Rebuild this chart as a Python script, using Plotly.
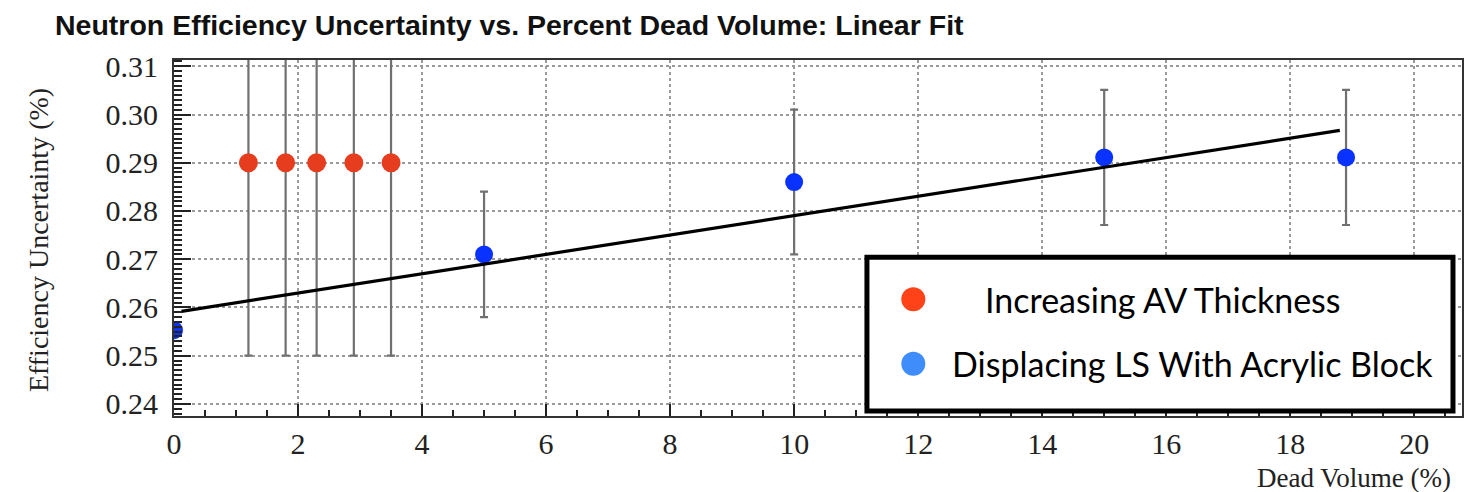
import plotly.graph_objects as go

# ---- data ----
red_x = [1.2, 1.8, 2.3, 2.9, 3.5]
red_y = [0.290, 0.290, 0.290, 0.290, 0.290]
red_err = [0.040, 0.040, 0.040, 0.040, 0.040]

blue_x = [0.0, 5.0, 10.0, 15.0, 18.9]
blue_y = [0.2553, 0.2710, 0.2860, 0.2911, 0.2911]
blue_err = [0.0, 0.0130, 0.0150, 0.0140, 0.0140]

fit_x = [0.12, 18.8]
fit_y = [0.2592, 0.2967]

x_ticks = [0, 2, 4, 6, 8, 10, 12, 14, 16, 18, 20]
x_ticklabels = ["0", "2", "4", "6", "8", "10", "12", "14", "16", "18", "20"]
y_ticks = [0.24, 0.25, 0.26, 0.27, 0.28, 0.29, 0.30, 0.31]
y_ticklabels = ["0.24", "0.25", "0.26", "0.27", "0.28", "0.29", "0.30", "0.31"]

legend_labels = ["Increasing AV Thickness", "Displacing LS With Acrylic Block"]

title_text = "Neutron Efficiency Uncertainty vs. Percent Dead Volume: Linear Fit"
x_title = "Dead Volume (%)"
y_title = "Efficiency Uncertainty (%)"

RED = "#e63d1f"
BLUE = "#0a32ff"
LEG_RED = "#ff4218"
LEG_BLUE = "#3f8cfb"
ERR = "#707070"
SERIF = "Liberation Serif, Times New Roman, serif"

fig = go.Figure()

fig.add_trace(go.Scatter(
    x=red_x, y=red_y, mode="markers",
    marker=dict(color=RED, size=19),
    error_y=dict(type="data", array=red_err, color=ERR, thickness=2.2, width=4),
    showlegend=False, name=legend_labels[0],
))
fig.add_trace(go.Scatter(
    x=blue_x, y=blue_y, mode="markers",
    marker=dict(color=BLUE, size=18),
    error_y=dict(type="data", array=blue_err, color=ERR, thickness=2.2, width=4),
    showlegend=False, name=legend_labels[1],
))
fig.add_trace(go.Scatter(
    x=fit_x, y=fit_y, mode="lines",
    line=dict(color="black", width=3.2),
    showlegend=False, name="Linear fit",
))

fig.update_layout(
    width=1476, height=492,
    margin=dict(l=174, r=14, t=60, b=76),
    paper_bgcolor="white", plot_bgcolor="white",
    font=dict(family=SERIF, color="#222"),
    title=dict(text=title_text, x=55 / 1476, xanchor="left",
               y=1 - 25 / 492, yanchor="middle",
               font=dict(family="Liberation Sans", size=28.5, color="#111", weight="bold")),
    xaxis=dict(
        range=[0, 20.77], tickmode="array", tickvals=x_ticks, ticktext=x_ticklabels,
        ticks="inside", ticklen=12, tickwidth=2, tickcolor="#222",
        tickfont=dict(family=SERIF, size=30, color="#222"),
        showgrid=True, gridcolor="#9a9a9a", griddash="dot", gridwidth=1.5,
        zeroline=False, showline=True, linecolor="#333", linewidth=2, mirror=True,
        minor=dict(dtick=0.5, ticks="inside", ticklen=6, tickwidth=2, tickcolor="#222", showgrid=False),
    ),
    yaxis=dict(
        range=[0.2375, 0.3113], tickmode="array", tickvals=y_ticks, ticktext=y_ticklabels,
        ticks="inside", ticklen=17, tickwidth=2, tickcolor="#222",
        tickfont=dict(family=SERIF, size=30, color="#222"),
        ticklabelstandoff=8,
        showgrid=True, gridcolor="#9a9a9a", griddash="dot", gridwidth=1.5,
        zeroline=False, showline=True, linecolor="#333", linewidth=2, mirror=True,
        minor=dict(dtick=0.001, ticks="inside", ticklen=8, tickwidth=1.5, tickcolor="#222", showgrid=False),
    ),
    annotations=[
        dict(text=x_title, xref="paper", yref="paper", x=0.993, y=-0.174,
             xanchor="right", yanchor="middle", showarrow=False,
             font=dict(family=SERIF, size=27, color="#222")),
        dict(text=y_title, xref="paper", yref="paper", x=-0.1056, y=0.494,
             xanchor="center", yanchor="middle", textangle=-90, showarrow=False,
             font=dict(family=SERIF, size=28, color="#222")),
        dict(text=legend_labels[0], xref="paper", yref="paper", x=0.768, y=0.328,
             xanchor="center", yanchor="middle", showarrow=False,
             font=dict(family="Lato", size=34, color="black")),
        dict(text=legend_labels[1], xref="paper", yref="paper", x=0.791, y=0.147,
             xanchor="center", yanchor="middle", showarrow=False,
             font=dict(family="Lato", size=34, color="black")),
    ],
    shapes=[
        dict(type="rect", xref="paper", yref="paper", x0=0.538, x1=0.993, y0=0.014, y1=0.446,
             line=dict(color="black", width=5), fillcolor="white", layer="above"),
        dict(type="circle", xref="paper", yref="paper", xsizemode="pixel", ysizemode="pixel",
             xanchor=0.574, yanchor=0.328, x0=-12, x1=12, y0=-12, y1=12,
             line=dict(width=0), fillcolor=LEG_RED, layer="above"),
        dict(type="circle", xref="paper", yref="paper", xsizemode="pixel", ysizemode="pixel",
             xanchor=0.574, yanchor=0.147, x0=-12, x1=12, y0=-12, y1=12,
             line=dict(width=0), fillcolor=LEG_BLUE, layer="above"),
    ],
)

fig.write_html("out.html")
